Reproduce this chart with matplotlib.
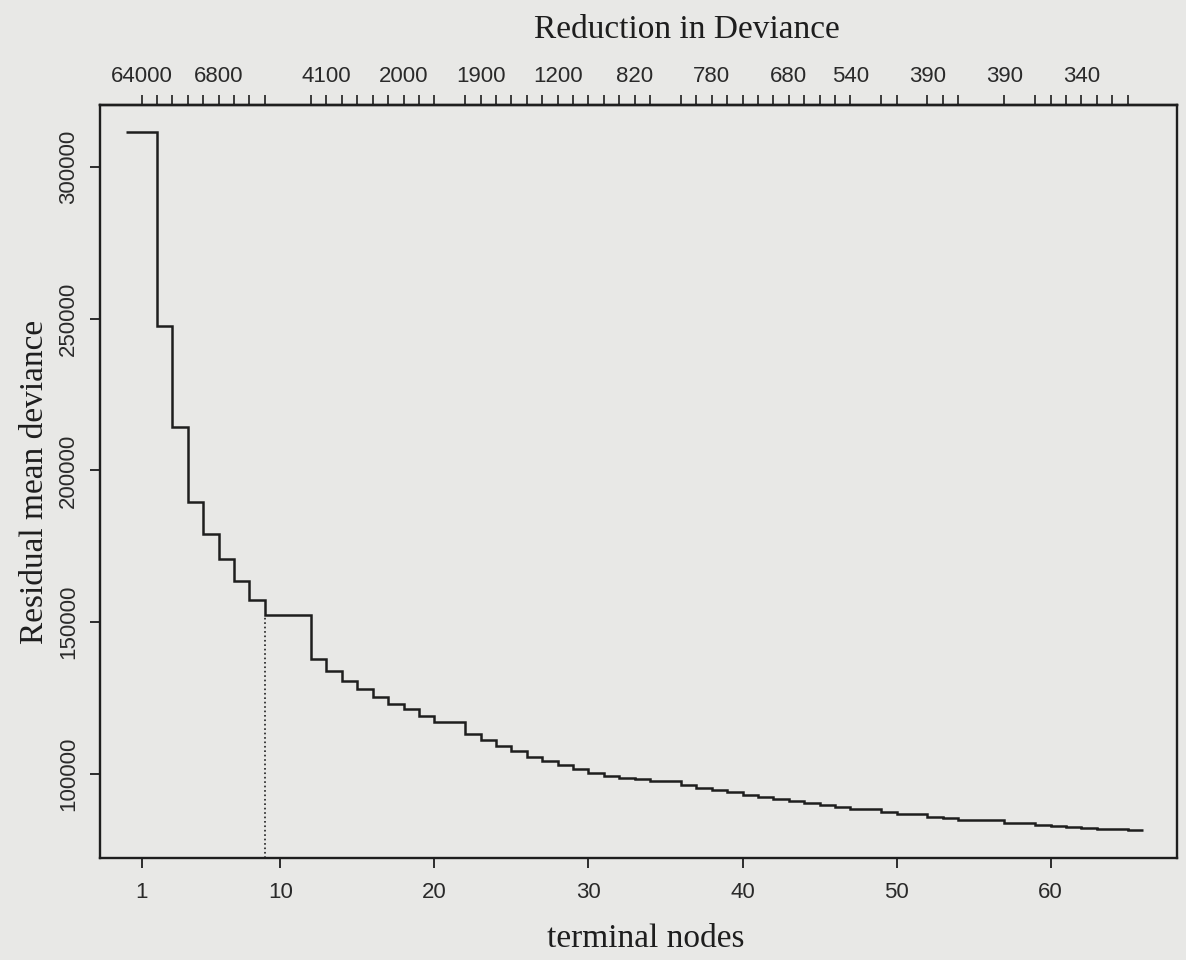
import matplotlib

matplotlib.use("Agg")
import matplotlib.pyplot as plt

# tree sizes in the pruning sequence and their residual mean deviance
size = [1, 2, 3, 4, 5, 6, 7, 8, 9, 12, 13, 14, 15, 16, 17, 18, 19, 20, 22,
        23, 24, 25, 26, 27, 28, 29, 30, 31, 32, 33, 34, 36, 37, 38, 39, 40,
        41, 42, 43, 44, 45, 46, 47, 49, 50, 52, 53, 54, 57, 59, 60, 61, 62,
        63, 64, 65]
dev = [311400, 247700, 214200, 189500, 179000, 170700, 163700, 157500,
       152500, 138000, 134000, 130700, 127900, 125400, 123200, 121300,
       119100, 117200, 113200, 111200, 109200, 107600, 105700, 104400,
       103000, 101600, 100400, 99300, 98700, 98300, 97800, 96500, 95600,
       94900, 94100, 93300, 92500, 91800, 91100, 90500, 89800, 89200,
       88600, 87600, 87000, 86000, 85500, 85000, 84000, 83400, 83000,
       82700, 82400, 82100, 81800, 81600]

# reduction-in-deviance labels that are printed on the top axis
k_sizes = [1, 6, 13, 18, 23, 28, 33, 38, 43, 47, 52, 57, 62]
k_labels = ["64000", "6800", "4100", "2000", "1900", "1200", "820", "780",
            "680", "540", "390", "390", "340"]

y_ticks = [100000, 150000, 200000, 250000, 300000]
x_ticks = [1, 10, 20, 30, 40, 50, 60]
best_size = 9

PAPER = "#e8e8e6"
INK = "#1e1e1e"
SERIF = "Liberation Serif"
SANS = "Liberation Sans"

fig = plt.figure(figsize=(11.86, 9.6), dpi=100, facecolor=PAPER)
ax = fig.add_axes([100 / 1186, 102 / 960, 1077 / 1186, 753 / 960])
ax.set_facecolor(PAPER)

edges = [size[0] - 1] + size[1:] + [size[-1] + 1]
ax.stairs(dev, edges, baseline=None, color=INK, lw=1.8)

ylo, yhi = 72400, 320300
best_dev = dev[size.index(best_size)]
ax.plot([best_size, best_size], [ylo, best_dev], color=INK, lw=1.2, ls=":")

ax.set_xlim(-1.7, 68.2)
ax.set_ylim(ylo, yhi)

for s in ax.spines.values():
    s.set_linewidth(1.7)
    s.set_color(INK)

ax.set_xticks(x_ticks)
ax.set_xticklabels([str(t) for t in x_ticks], family=SANS, fontsize=16, color="#2a2a2a")
ax.set_yticks(y_ticks)
ax.set_yticklabels([str(t) for t in y_ticks], family=SANS, fontsize=16,
                   color="#2a2a2a", rotation=90, va="center")
ax.tick_params(axis="x", length=7, width=1.3, pad=10, color=INK)
ax.tick_params(axis="y", length=7, width=1.3, pad=8, color=INK)

ax.set_xlabel("terminal nodes", family=SERIF, fontsize=24, color=INK, labelpad=15)
ax.xaxis.label.set_x(0.507)
ax.set_ylabel("Residual mean deviance", family=SERIF, fontsize=24, color=INK, labelpad=6)

top = ax.secondary_xaxis("top")
lab = dict(zip(k_sizes, k_labels))
top.set_xticks(size)
top.set_xticklabels([lab.get(s, "") for s in size], family=SANS, fontsize=16, color="#2a2a2a")
top.tick_params(length=7, width=1.2, pad=6, color=INK)
top.spines["top"].set_linewidth(1.7)
top.set_xlabel("Reduction in Deviance", family=SERIF, fontsize=24, color=INK, labelpad=20)
top.xaxis.label.set_x(0.545)

fig.savefig("out.png", dpi=100, facecolor=PAPER)
